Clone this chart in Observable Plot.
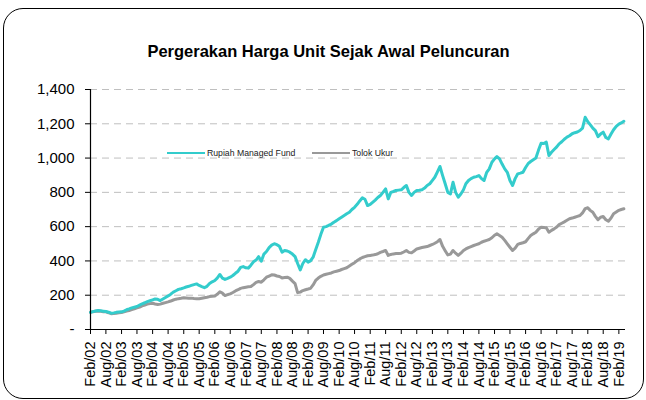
<!DOCTYPE html>
<html><head><meta charset="utf-8">
<script src="https://cdn.jsdelivr.net/npm/d3@7"></script>
<script src="https://cdn.jsdelivr.net/npm/@observablehq/plot@0.6"></script>
<style>
html,body{margin:0;padding:0;background:#fff;}
#wrap{position:relative;width:646px;height:400px;overflow:hidden;font-family:"Liberation Sans",Arial,sans-serif;}
#chart{position:absolute;left:0;top:0;}
#frame{position:absolute;left:3px;top:8px;width:641px;height:391px;box-sizing:border-box;border:1.5px solid #000;border-radius:20px;}
#title{position:absolute;left:0;width:657px;top:43px;text-align:center;font-weight:bold;font-size:16.5px;line-height:16.5px;color:#000;transform:scaleY(1.05);transform-origin:50% 14px;}
.leg{position:absolute;top:148px;font-size:8.7px;line-height:10px;color:#222;display:flex;align-items:center;white-space:nowrap;}
.sw{display:inline-block;width:38px;height:0;border-top:2px solid;margin-right:2px;}
</style></head><body>
<div id="wrap">
  <div id="chart"></div>
  <div id="frame"></div>
  <div id="title">Pergerakan Harga Unit Sejak Awal Peluncuran</div>
  <div class="leg" style="left:167px"><span class="sw" style="border-color:#33cccc"></span>Rupiah Managed Fund</div>
  <div class="leg" style="left:312px"><span class="sw" style="border-color:#999999"></span>Tolok Ukur</div>
</div>
<script>
// Monthly values, Feb 2002 .. Apr 2019
const seriesNames = ["Rupiah Managed Fund", "Tolok Ukur"];
const fund = [
  100,104,108,111,109,107,105,101,95,97,100,
  102,103,107,115,120,126,130,134,142,150,156,163,
  168,173,178,176,169,178,187,196,206,218,226,234,
  238,243,248,252,257,262,266,257,250,244,252,268,
  278,286,300,321,300,292,298,305,315,328,340,362,
  367,360,358,375,395,405,425,398,440,455,478,492,
  500,495,485,451,461,458,451,440,425,385,348,385,
  407,393,400,422,465,509,555,597,600,607,615,626,
  635,646,655,665,675,684,700,713,730,750,768,760,
  723,730,742,755,770,782,800,820,762,800,805,811,
  813,815,828,840,800,782,800,811,812,815,825,840,
  850,870,888,920,951,898,850,800,791,859,800,772,
  790,815,850,869,880,888,892,898,880,869,917,937,
  976,995,1009,995,965,937,917,869,840,880,908,912,
  917,945,967,980,990,1000,1045,1087,1085,1093,1015,1034,
  1050,1065,1083,1095,1110,1122,1130,1142,1148,1152,1161,1175,
  1238,1212,1195,1175,1160,1125,1140,1151,1120,1112,1140,1165,
  1185,1198,1205,1215
];
const benchmark = [
  100,104,107,108,106,104,103,98,92,93,95,
  97,99,103,108,111,116,121,126,131,138,143,148,
  151,153,149,146,148,153,157,161,166,172,177,180,
  182,185,184,183,183,181,180,179,182,185,188,192,
  194,196,205,220,212,198,203,208,216,225,232,240,
  244,247,249,251,262,275,280,276,290,305,312,319,
  318,312,309,301,303,305,298,282,268,215,218,227,
  232,236,240,260,286,300,310,318,322,326,330,336,
  340,344,350,355,360,370,380,390,402,412,420,425,
  430,432,434,437,442,450,455,461,432,438,441,443,
  444,445,452,461,450,447,458,470,474,478,481,484,
  490,496,503,512,525,485,460,435,440,461,445,432,
  445,461,470,478,484,490,495,500,509,515,520,525,
  535,550,558,548,538,520,500,480,461,475,496,502,
  506,512,530,548,558,567,585,597,595,593,567,578,
  587,598,612,620,628,637,646,650,655,660,665,680,
  705,710,695,684,660,640,655,659,640,632,650,675,
  685,695,700,704
];
const yTicks = [0, 200, 400, 600, 800, 1000, 1200, 1400];
const startDate = new Date(Date.UTC(2002, 1, 1));
const endDate = new Date(Date.UTC(2019, 3, 20));
const tickDates = d3.utcMonth.range(startDate, new Date(Date.UTC(2019, 2, 1)), 6);

const dates = fund.map((_, i) => d3.utcMonth.offset(startDate, i));
const fundRows = dates.map((d, i) => ({date: d, value: fund[i], series: seriesNames[0]}));
const benchRows = dates.map((d, i) => ({date: d, value: benchmark[i], series: seriesNames[1]}));

const chart = Plot.plot({
  width: 646, height: 400,
  marginLeft: 90, marginRight: 21, marginTop: 89, marginBottom: 71,
  style: {fontFamily: "'Liberation Sans', Arial, sans-serif", fontSize: "14px", color: "#000", background: "transparent"},
  x: {type: "utc", domain: [startDate, endDate]},
  y: {domain: [0, 1400]},
  marks: [
    Plot.ruleY(yTicks.filter(d => d > 0), {stroke: "#bfbfbf", strokeDasharray: "7,5", strokeWidth: 1}),
    Plot.axisY({ticks: yTicks, tickFormat: d => d === 0 ? "-" : d3.format(",")(d), tickSize: 5, tickPadding: 11, fontSize: 15, label: null}),
    Plot.axisX({ticks: tickDates, tickFormat: d3.utcFormat("%b/%y"), tickRotate: -90, tickSize: 5, tickPadding: 7, fontSize: 14.5, label: null}),
    Plot.line(benchRows, {x: "date", y: "value", stroke: "#999999", strokeWidth: 3}),
    Plot.line(fundRows, {x: "date", y: "value", stroke: "#33cccc", strokeWidth: 3}),
    Plot.ruleX([startDate], {stroke: "#000", strokeWidth: 1.2}),
    Plot.ruleY([0], {stroke: "#000", strokeWidth: 1.2})
  ]
});
document.getElementById("chart").appendChild(chart);
</script>
</body></html>
